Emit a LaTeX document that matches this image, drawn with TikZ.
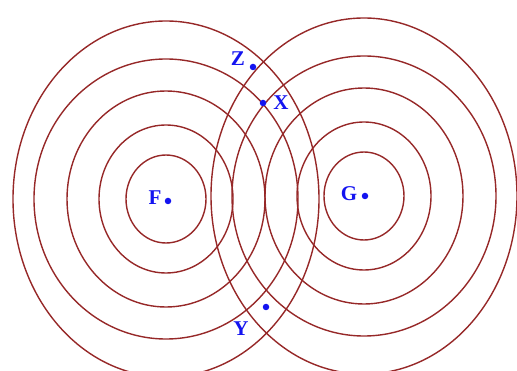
\documentclass[tikz,border=0pt]{standalone}
\usepackage{fontspec}
\setmainfont{Liberation Serif}
\definecolor{ring}{RGB}{150,40,40}
\definecolor{lbl}{RGB}{20,20,240}
\begin{document}
\begin{tikzpicture}[x=1pt,y=-1pt,
  ringline/.style={draw=ring,line width=1.4pt},
  pt/.style={circle,fill=lbl,inner sep=0pt,minimum size=6.5pt},
  lab/.style={text=lbl,font=\bfseries\fontsize{21}{21}\selectfont,inner sep=0pt}]
\useasboundingbox (0,0) rectangle (517,371);
\coordinate (Fc) at (166,199);
\coordinate (Gc) at (364,196);
\foreach \rx/\ry in {40/44,67/74,99/108,132/140,153/178}{
  \draw[ringline] (Fc) ellipse [x radius=\rx, y radius=\ry];
  \draw[ringline] (Gc) ellipse [x radius=\rx, y radius=\ry];
}
\node[pt] (F) at (168,201) {};
\node[pt] (G) at (365,196) {};
\node[pt] (Z) at (253,67) {};
\node[pt] (X) at (263,103) {};
\node[pt] (Y) at (266,307) {};
\node[lab] (Fl) at (155,198) {F};
\node[lab] (Gl) at (349,194) {G};
\node[lab] (Zl) at (238,59) {Z};
\node[lab] (Xl) at (281,103) {X};
\node[lab] (Yl) at (241,329) {Y};
\end{tikzpicture}
\end{document}
